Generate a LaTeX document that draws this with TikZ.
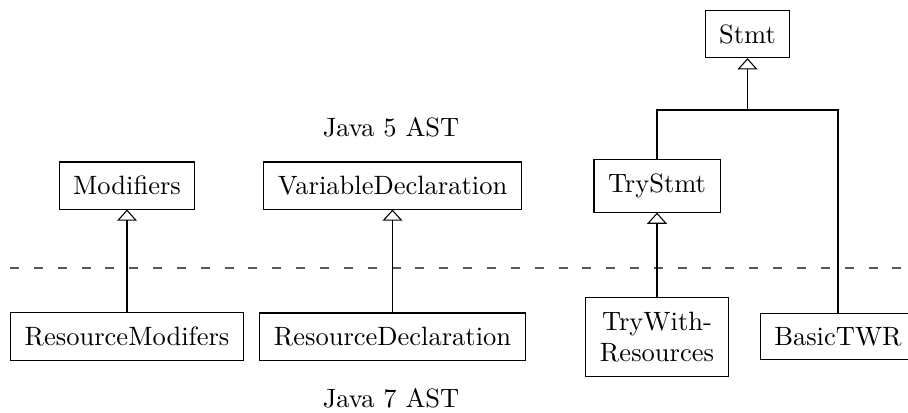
\documentclass[tikz,border=0pt]{standalone}
\usetikzlibrary{arrows.meta}
\begin{document}
\begin{tikzpicture}[x=0.3774pt, y=-0.3774pt,
  cls/.style={draw, line width=0.4pt, inner sep=5.3pt, font=\normalsize},
  inherit/.style={-{Triangle[open, length=4.2pt, width=7.5pt]}, line width=0.4pt},
  plain/.style={line width=0.4pt},
  divider/.style={line width=0.4pt, black!65, dash pattern=on 3.4pt off 5.6pt}]
  \clip (0,0) rectangle (908,412);

  % Java 5 classes
  \node[cls] (stmt) at (747.5,34) {Stmt};
  \node[cls] (mods) at (127,185.5) {Modifiers};
  \node[cls] (vardecl) at (392.5,185.5) {VariableDeclaration};
  \node[cls] (trystmt) at (657,186) {TryStmt};
  \node (j5) at (391,127) {Java 5 AST};

  % separator between the two language levels
  \coordinate (dl) at (10,268);
  \coordinate (dr) at (908,268);
  \draw[divider] (dl) -- (dr);

  % Java 7 classes
  \node[cls] (resmods) at (127,336.5) {ResourceModifers};
  \node[cls] (resdecl) at (392.5,336.5) {ResourceDeclaration};
  \node[cls, align=center] (twr) at (657,337) {TryWith-\\Resources};
  \node[cls] (basic) at (838,336.5) {BasicTWR};
  \node (j7) at (391,398) {Java 7 AST};

  % inheritance edges
  \draw[inherit] (resmods.north) -- (mods.south);
  \draw[inherit] (resdecl.north) -- (vardecl.south);
  \draw[inherit] (twr.north) -- (trystmt.south);

  \coordinate (junc) at (747.5,110);
  \coordinate (jl) at (trystmt.north |- junc);
  \coordinate (jr) at (basic.north |- junc);
  \draw[plain] (trystmt.north) -- (jl) -- (jr) -- (basic.north);
  \draw[inherit] (junc) -- (stmt.south);
\end{tikzpicture}
\end{document}
